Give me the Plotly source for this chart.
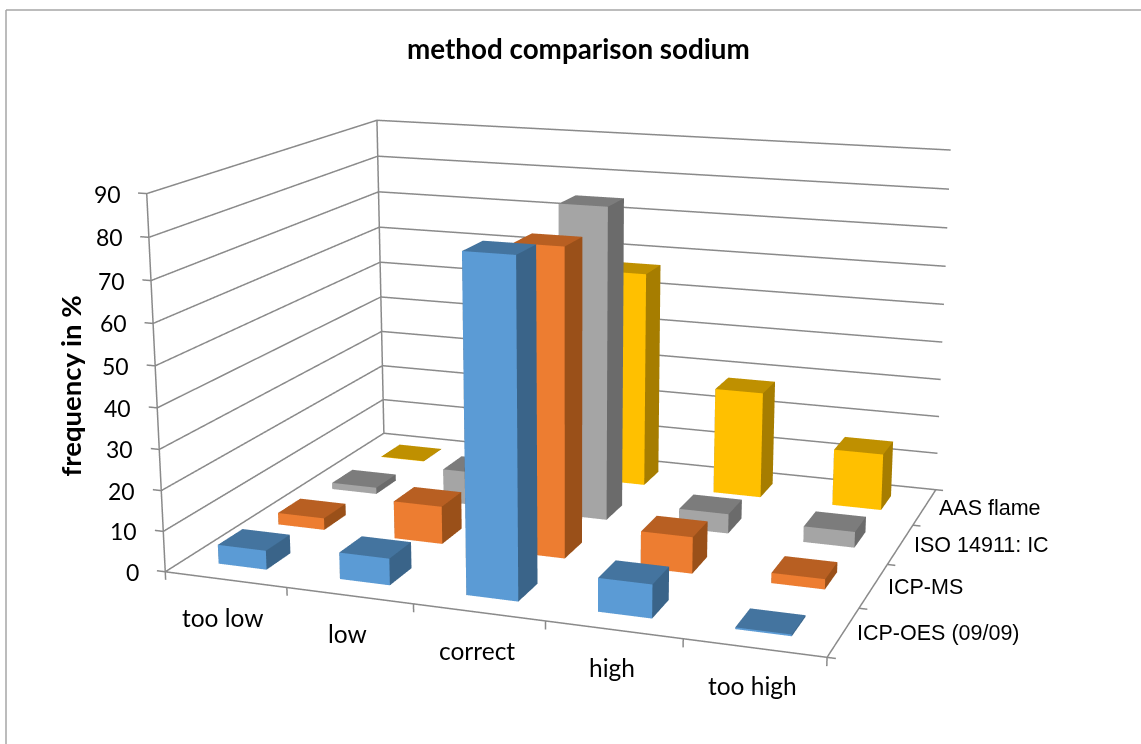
import plotly.graph_objects as go

categories = ["too low", "low", "correct", "high", "too high"]
series_names = ["ICP-OES (09/09)", "ICP-MS", "ISO 14911: IC", "AAS flame"]
icp_oes = [4.7, 6.5, 80, 8, 0.4]
icp_ms = [3, 9.5, 76, 9, 2.5]
iso_ic = [1.7, 8.7, 80, 5, 4]
aas_flame = [0.1, 0, 57, 28, 14.8]
z_ticks = [0, 10, 20, 30, 40, 50, 60, 70, 80, 90]

W, H = 1141, 744
BW, BH = 2800, 1826
OX, OY = (BW-W)/2, (BH-H)/2
RX, RY = (-0.1, 5.1), (0, 4)
RZ = (-3, 92)
# camera solved for a z range of (-3, 90); re-expressed below for the padded range
EYE0 = (1.4114, -3.9610, 1.0661)
CEN0 = (-0.1344, 0.3695, -0.1281)
ASP0 = (1.3317, 1.0020, 0.7495)
zr = (RZ[1]-RZ[0])/93.0
dz = ((RZ[0]+RZ[1])/2-43.5)/93.0*ASP0[2]
s = zr**(-1/3)
EYE = (EYE0[0]*s, EYE0[1]*s, (EYE0[2]-dz)*s)
CEN = (CEN0[0]*s, CEN0[1]*s, (CEN0[2]-dz)*s)
ASP = (ASP0[0]*s, ASP0[1]*s, ASP0[2]*zr*s)

def px(x): return (x+OX)/BW
def py(y): return 1-(y+OY)/BH

front = ["#5B9BD5", "#ED7D31", "#A5A5A5", "#FFC000"]
top = ["#44749F", "#B85F22", "#7C7C7C", "#BF9000"]
side = ["#3A6489", "#9A5019", "#6B6B6B", "#A67D00"]
rows = [icp_oes, icp_ms, iso_ic, aas_flame]

fig = go.Figure()
for j, vals in enumerate(rows):
    X, Y, Z, I, J, K, FC = [], [], [], [], [], [], []
    for i, v in enumerate(vals):
        if v <= 0: continue
        b = len(X)
        x0, x1, y0, y1 = i+.285, i+.685, j+.3, j+.7
        for zz in (0, v):
            for xx, yy in ((x0,y0),(x1,y0),(x1,y1),(x0,y1)):
                X.append(xx); Y.append(yy); Z.append(zz)
        faces = [((0,1,5,4),front[j]),((1,2,6,5),side[j]),((4,5,6,7),top[j]),((2,3,7,6),side[j]),((3,0,4,7),side[j]),((0,1,2,3),side[j])]
        for (q0,q1,q2,q3), col in faces:
            I += [b+q0,b+q0]; J += [b+q1,b+q2]; K += [b+q2,b+q3]; FC += [col,col]
    fig.add_trace(go.Mesh3d(x=X,y=Y,z=Z,i=I,j=J,k=K,facecolor=FC,flatshading=True,hoverinfo="skip",
        name=series_names[j],
        lighting=dict(ambient=1,diffuse=0,specular=0,fresnel=0,roughness=1)))

lx, ly, lz = [], [], []
def seg(*pts):
    for q in pts:
        lx.append(q[0]); ly.append(q[1]); lz.append(q[2])
    lx.append(None); ly.append(None); lz.append(None)
for t in z_ticks:
    seg((-0.07,0,t),(0,0,t),(0,4,t),(5,4,t))
seg((0,0,0),(0,0,90)); seg((0,4,0),(0,4,90))
seg((0,0,0),(5,0,0),(5,4,0),(5.06,4,0))
for i in range(6): seg((i,0,0),(i,0,-2))
for j in range(5): seg((5,j,0),(5.06,j,0))
fig.add_trace(go.Scatter3d(x=lx,y=ly,z=lz,mode="lines",line=dict(color="#8A8A8A",width=3),hoverinfo="skip",showlegend=False))

cal = "Lato"
ann = []
for t in z_ticks:
    ann.append(dict(x=0,y=0,z=t,text=str(t),showarrow=False,xanchor="right",xshift=-24,font=dict(family=cal,size=23,color="#000")))
for i, c in enumerate(categories):
    ann.append(dict(x=i+.5,y=0,z=0,text=c,showarrow=False,xshift=-2,yshift=-38,font=dict(family=cal,size=24.5,color="#000")))
for j, c in enumerate(series_names):
    ann.append(dict(x=5,y=j+.5,z=0,text=c,showarrow=False,xanchor="left",xshift=12,yshift=-1,font=dict(family="Liberation Sans",size=21.5,color="#000")))

fig.update_layout(width=BW,height=BH,margin=dict(l=0,r=0,t=0,b=0),paper_bgcolor="white",showlegend=False,
    scene=dict(domain=dict(x=[0,1],y=[0,1]),aspectmode="manual",
        aspectratio=dict(x=ASP[0],y=ASP[1],z=ASP[2]),
        camera=dict(eye=dict(x=EYE[0],y=EYE[1],z=EYE[2]),center=dict(x=CEN[0],y=CEN[1],z=CEN[2]),up=dict(x=0,y=0,z=1)),
        xaxis=dict(visible=False,range=list(RX)),yaxis=dict(visible=False,range=list(RY)),zaxis=dict(visible=False,range=list(RZ)),
        annotations=ann),
    annotations=[dict(xref="paper",yref="paper",x=px(578),y=py(48),xanchor="center",yanchor="middle",text="<b>method comparison sodium</b>",showarrow=False,font=dict(family=cal,size=27.8,color="#000")),
                 dict(xref="paper",yref="paper",x=px(69),y=py(386),xanchor="center",yanchor="middle",text="<b>frequency in %</b>",textangle=-90,showarrow=False,font=dict(family=cal,size=27.5,color="#000"))],
    shapes=[dict(type="line",xref="paper",yref="paper",x0=px(5.5),x1=px(W),y0=py(10),y1=py(10),line=dict(color="#A6A6A6",width=1.5)),
            dict(type="line",xref="paper",yref="paper",x0=px(5.5),x1=px(5.5),y0=py(10),y1=py(H),line=dict(color="#A6A6A6",width=1.5))])
post = ("var g=document.getElementById('{plot_id}');document.documentElement.style.overflow='hidden';"
        "document.body.style.margin='0';document.body.style.overflow='hidden';"
        "g.style.position='absolute';g.style.left='%dpx';g.style.top='%dpx';window.scrollTo(0,0);" % (-OX, -OY))
fig.write_html("out.html", post_script=post)
